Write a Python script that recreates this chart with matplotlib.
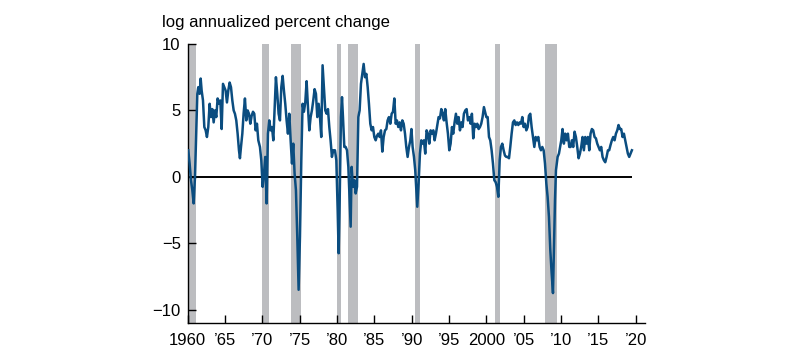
#!/usr/bin/env python3
"""Log annualized percent change, 1960-2019, with recession shading."""

import matplotlib
matplotlib.use("Agg")
import matplotlib.pyplot as plt

# series (decimal years)
years = [
    1960.08, 1960.26, 1960.44, 1960.62, 1960.80, 1960.98, 1961.16, 1961.29, 1961.42, 1961.60,
    1961.74, 1961.87, 1962.05, 1962.23, 1962.41, 1962.58, 1962.76, 1962.94, 1963.12, 1963.30,
    1963.48, 1963.66, 1963.83, 1964.01, 1964.19, 1964.37, 1964.55, 1964.73, 1964.91, 1965.08,
    1965.26, 1965.44, 1965.62, 1965.80, 1965.98, 1966.16, 1966.33, 1966.51, 1966.69, 1966.87,
    1967.00, 1967.14, 1967.32, 1967.49, 1967.67, 1967.85, 1968.03, 1968.21, 1968.39, 1968.57,
    1968.75, 1968.92, 1969.10, 1969.28, 1969.46,
    1969.68, 1969.86, 1970.04, 1970.22, 1970.39, 1970.57, 1970.75, 1970.93, 1971.11, 1971.29,
    1971.47, 1971.64, 1971.82, 1972.00, 1972.18, 1972.36, 1972.54, 1972.72, 1972.89, 1973.07,
    1973.25, 1973.43, 1973.61, 1973.79, 1973.97, 1974.14, 1974.32, 1974.50, 1974.68, 1974.86,
    1975.04, 1975.22, 1975.39, 1975.57, 1975.75, 1975.93, 1976.11, 1976.29, 1976.47, 1976.64,
    1976.82, 1977.00, 1977.18, 1977.36, 1977.54, 1977.72, 1977.89, 1978.07, 1978.25, 1978.43,
    1978.61, 1978.79, 1978.97, 1979.14, 1979.32, 1979.50,
    1979.73, 1979.91, 1980.09, 1980.22, 1980.36, 1980.53, 1980.67, 1980.80, 1980.98, 1981.16,
    1981.34, 1981.52, 1981.70, 1981.83, 1981.96, 1982.14, 1982.32, 1982.50, 1982.68, 1982.86,
    1983.03, 1983.21, 1983.39, 1983.57, 1983.75, 1983.93, 1984.11, 1984.28, 1984.46, 1984.64,
    1984.82, 1985.00, 1985.18, 1985.36, 1985.53, 1985.71, 1985.89, 1986.07, 1986.25, 1986.43,
    1986.61, 1986.78, 1986.96, 1987.14, 1987.32, 1987.50, 1987.68, 1987.86, 1988.03, 1988.21,
    1988.39, 1988.57, 1988.75, 1988.93, 1989.11, 1989.28, 1989.46, 1989.64, 1989.82, 1989.97,
    1990.13, 1990.31, 1990.48, 1990.62, 1990.75, 1990.93, 1991.11, 1991.29, 1991.47, 1991.64,
    1991.82, 1992.00, 1992.18, 1992.36, 1992.54, 1992.72, 1992.90, 1993.07, 1993.25, 1993.43,
    1993.61, 1993.79, 1993.97, 1994.15, 1994.32, 1994.50, 1994.68, 1994.86, 1995.04, 1995.22,
    1995.40, 1995.57, 1995.75, 1995.93, 1996.11, 1996.29, 1996.47, 1996.65, 1996.82, 1997.00,
    1997.18, 1997.36, 1997.54, 1997.72, 1997.90, 1998.07, 1998.25, 1998.43, 1998.61, 1998.79,
    1998.97, 1999.15, 1999.32, 1999.50, 1999.68,
    2000.00, 2000.18, 2000.36, 2000.53, 2000.71, 2000.89, 2001.07, 2001.25, 2001.43, 2001.61,
    2001.79, 2001.96, 2002.14, 2002.32, 2002.50, 2002.68, 2002.86, 2003.04, 2003.21, 2003.39,
    2003.57, 2003.75, 2003.93, 2004.11, 2004.29, 2004.46, 2004.64, 2004.82, 2005.00, 2005.18,
    2005.36, 2005.54, 2005.71, 2005.89, 2006.07, 2006.25, 2006.43, 2006.61, 2006.79, 2006.96,
    2007.14, 2007.32, 2007.50, 2007.68, 2007.86, 2008.04, 2008.21, 2008.39, 2008.57, 2008.75,
    2008.93, 2009.06, 2009.20, 2009.33, 2009.55, 2009.73,
    2010.04, 2010.21, 2010.39, 2010.57, 2010.75, 2010.93, 2011.11, 2011.29, 2011.46, 2011.64,
    2011.82, 2012.00, 2012.18, 2012.36, 2012.54, 2012.71, 2012.89, 2013.07, 2013.25, 2013.43,
    2013.61, 2013.79, 2013.96, 2014.14, 2014.32, 2014.50, 2014.68, 2014.86, 2015.04, 2015.21,
    2015.39, 2015.57, 2015.75, 2015.93, 2016.11, 2016.29, 2016.46, 2016.64, 2016.82, 2017.00,
    2017.18, 2017.36, 2017.54, 2017.71, 2017.89, 2018.07, 2018.25, 2018.43, 2018.61, 2018.79,
    2018.96, 2019.14, 2019.32, 2019.50,
]
growth = [
    2.0, 1.0, -0.25, -1.0, -2.0, 0.0, 3.75, 6.25, 6.75, 6.25,
    7.4, 6.5, 5.75, 3.75, 3.5, 3.0, 3.75, 5.5, 4.5, 5.1,
    4.1, 5.0, 4.5, 5.9, 5.5, 5.75, 3.6, 7.0, 6.75, 6.5,
    5.6, 6.5, 7.1, 6.75, 5.75, 5.0, 4.75, 4.25, 3.25, 2.0,
    1.4, 2.25, 3.25, 4.75, 5.9, 4.25, 5.0, 4.75, 4.0, 4.6,
    4.9, 4.75, 3.5, 4.0, 2.75,
    2.25, 1.25, -0.75, 0.25, 1.5, -2.0, 3.25, 4.25, 3.5, 3.75,
    2.75, 5.0, 7.5, 6.25, 4.75, 4.25, 6.75, 7.6, 6.5, 5.5,
    4.25, 3.25, 4.75, 2.75, 1.0, 2.5, 0.25, -1.0, -4.5, -8.5,
    -4.5, 1.25, 5.5, 4.9, 5.6, 7.2, 5.25, 3.5, 4.5, 5.0,
    5.75, 6.6, 6.25, 4.5, 5.5, 4.5, 3.0, 8.4, 6.75, 5.0,
    4.75, 5.1, 3.75, 2.75, 1.5, 2.0,
    2.0, 1.25, -2.5, -5.75, -1.75, 4.5, 6.0, 4.5, 2.25, 2.25,
    2.0, 0.75, -1.75, -3.75, 0.75, -0.75, -0.25, -1.25, -0.75, 4.5,
    5.0, 7.0, 7.75, 8.5, 7.5, 7.75, 6.75, 5.5, 4.0, 3.5,
    3.75, 3.0, 2.75, 3.1, 3.25, 3.0, 3.5, 1.9, 3.0, 3.5,
    3.6, 4.25, 4.5, 4.0, 4.75, 4.9, 5.9, 4.0, 4.25, 3.75,
    4.1, 3.5, 4.25, 4.0, 3.25, 2.25, 1.5, 2.25, 2.75, 3.6,
    2.25, 1.5, 0.5, -1.0, -2.25, -0.5, 1.75, 2.75, 2.5, 2.75,
    1.75, 3.5, 3.25, 2.5, 3.5, 3.25, 3.5, 2.75, 3.25, 3.9,
    4.5, 4.4, 5.1, 4.75, 4.25, 5.1, 4.1, 3.25, 2.0, 2.5,
    3.75, 3.25, 4.1, 4.75, 4.0, 4.5, 3.5, 4.1, 3.75, 4.75,
    5.0, 5.1, 4.25, 4.5, 4.0, 4.75, 2.9, 4.0, 3.75, 4.0,
    3.6, 3.75, 4.0, 4.5, 5.25,
    4.5, 4.5, 3.0, 2.75, 2.0, 1.0, -0.25, -0.4, -0.75, -1.5,
    1.25, 2.25, 2.5, 2.0, 1.6, 1.5, 1.5, 1.4, 2.25, 3.25,
    4.1, 4.25, 3.9, 4.1, 3.9, 4.1, 4.0, 4.5, 3.75, 4.0,
    3.5, 3.75, 4.6, 4.75, 3.75, 3.0, 2.25, 3.0, 2.75, 3.0,
    2.25, 2.0, 2.25, 2.0, 1.0, -0.5, -1.5, -3.0, -5.5, -7.25,
    -8.75, -5.5, -1.75, 0.5, 1.5, 1.75,
    2.75, 3.6, 2.5, 3.25, 2.75, 3.25, 2.25, 2.25, 2.75, 2.25,
    3.4, 3.0, 2.25, 1.4, 1.75, 2.25, 3.0, 2.0, 3.0, 2.5,
    3.0, 2.0, 3.25, 3.6, 3.5, 3.0, 2.9, 2.5, 2.25, 2.0,
    2.25, 1.5, 1.25, 1.1, 1.5, 2.0, 2.0, 2.4, 2.75, 3.0,
    2.75, 3.25, 3.5, 3.9, 3.6, 3.6, 3.0, 3.25, 2.75, 2.25,
    1.75, 1.5, 1.75, 2.0,
]

# recessions
rec_start = [1960.0, 1969.92, 1973.83, 1980.0, 1981.5, 1990.5, 2001.17, 2007.92]
rec_end = [1961.1, 1970.85, 1975.17, 1980.5, 1982.85, 1991.17, 2001.83, 2009.42]

xticks = [1960, 1965, 1970, 1975, 1980, 1985, 1990, 1995, 2000, 2005, 2010, 2015, 2020]
xtick_labels = ["1960", "\u201965", "\u201970", "\u201975", "\u201980", "\u201985", "\u201990",
                "\u201995", "2000", "\u201905", "\u201910", "\u201915", "\u201920"]
yticks = [-10, -5, 0, 5, 10]

plt.rcParams["font.family"] = ["Liberation Sans", "DejaVu Sans"]
plt.rcParams["font.size"] = 12

fig = plt.figure(figsize=(8.0, 3.58), dpi=100)
ax = fig.add_axes([0.2346, 0.0978, 0.5716, 0.7793])

for s, e in zip(rec_start, rec_end):
    ax.axvspan(s, e, color="#bcbdc0", lw=0, zorder=1)

ax.hlines(0, years[0], years[-1], color="black", lw=1.4, zorder=2)
ax.plot(years, growth, color="#0b4d80", lw=1.8, zorder=3)

ax.set_xlim(1960, 2021.25)
ax.set_ylim(-11, 10)
ax.set_xticks(xticks)
ax.set_xticklabels(xtick_labels)
ax.set_yticks(yticks)

for side in ("top", "right"):
    ax.spines[side].set_visible(False)
for side in ("left", "bottom"):
    ax.spines[side].set_linewidth(1.0)

ax.tick_params(axis="x", direction="in", length=6, width=1.0, pad=7, labelsize=12)
ax.tick_params(axis="y", direction="in", length=6, width=1.0, pad=5, labelsize=12)

fig.text(0.202, 0.925, "log annualized percent change", fontsize=12, va="baseline", ha="left")

fig.savefig("out.png", dpi=100)
